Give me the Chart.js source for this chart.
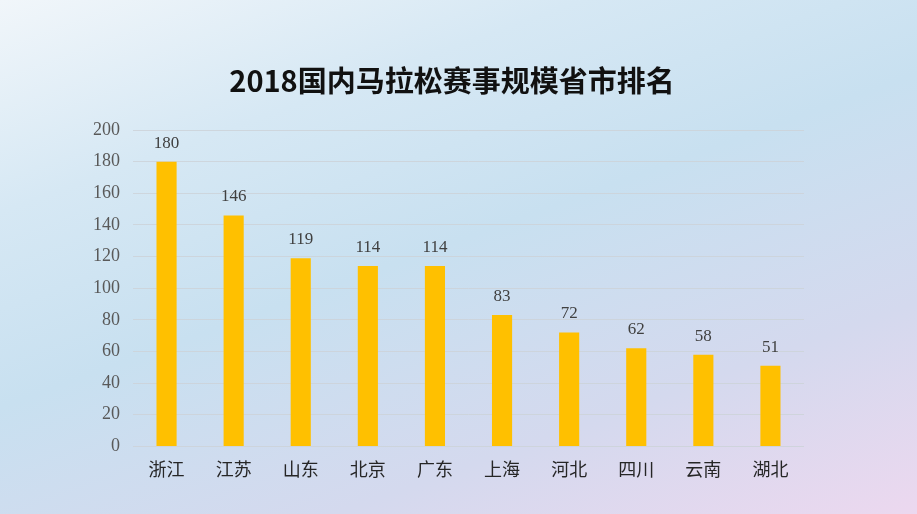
<!DOCTYPE html>
<html>
<head>
<meta charset="utf-8">
<script src="https://cdn.jsdelivr.net/npm/chart.js@4/dist/chart.umd.min.js"></script>
<style>
  html, body { margin: 0; padding: 0; }
  body {
    width: 917px; height: 514px; overflow: hidden;
    background: linear-gradient(160deg, #f1f6fa 0%, #d6e8f4 25%, #c8e0f0 48%, #d4d9ee 75%, #ecd8ef 100%);
  }
  canvas { display: block; }
</style>
</head>
<body>
<canvas id="barChart" width="917" height="514"></canvas>
<script>
// 2018 domestic marathon events by province/city
const provinces = ['浙江', '江苏', '山东', '北京', '广东', '上海', '河北', '四川', '云南', '湖北']
const eventCounts = [180, 146, 119, 114, 114, 83, 72, 62, 58, 51]
const yMax = 200
const yStep = 20
const chartTitle = '2018国内马拉松赛事规模省市排名'

const serif = '"Liberation Serif", "DejaVu Serif", serif'
const cjk = '"Noto Sans CJK SC", sans-serif'

// number above each bar + the title (centred on the picture, not the plot)
const valueLabels = {
  id: 'valueLabels',
  afterDatasetsDraw(chart) {
    const ctx = chart.ctx
    const meta = chart.getDatasetMeta(0)
    ctx.save()
    ctx.font = '17px ' + serif
    ctx.fillStyle = '#404040'
    ctx.textAlign = 'center'
    ctx.textBaseline = 'bottom'
    meta.data.forEach((bar, i) => {
      ctx.fillText(eventCounts[i], bar.x, bar.y - 10)
    })
    ctx.font = 'bold 29px ' + cjk
    ctx.fillStyle = '#111'
    ctx.textBaseline = 'middle'
    ctx.fillText(chartTitle, 452, 81)
    ctx.restore()
  }
}

let barChart = new Chart(document.getElementById('barChart'), {
  type: 'bar',
  data: {
    labels: provinces,
    datasets: [
      {
        label: '赛事数量',
        backgroundColor: '#FFC000',
        borderWidth: 0,
        categoryPercentage: 1,
        barPercentage: 0.3,
        data: eventCounts
      }
    ]
  },
  options: {
    responsive: false,
    animation: false,
    layout: { padding: { left: 60, right: 113, top: 130, bottom: 22 } },
    plugins: {
      legend: { display: false },
      tooltip: { enabled: false },
      title: { display: false }
    },
    scales: {
      x: {
        grid: { display: false, drawTicks: false },
        border: { display: false },
        ticks: { color: '#262626', font: { family: cjk, size: 18 }, padding: 12 }
      },
      y: {
        min: 0,
        max: yMax,
        afterFit(scale) { scale.width = 73 },
        grid: { color: 'rgba(205,210,216,0.85)', lineWidth: 1, drawTicks: false },
        border: { display: false },
        ticks: { stepSize: yStep, color: '#595959', font: { family: serif, size: 18 }, padding: 13 }
      }
    }
  },
  plugins: [valueLabels]
})
</script>
</body>
</html>
